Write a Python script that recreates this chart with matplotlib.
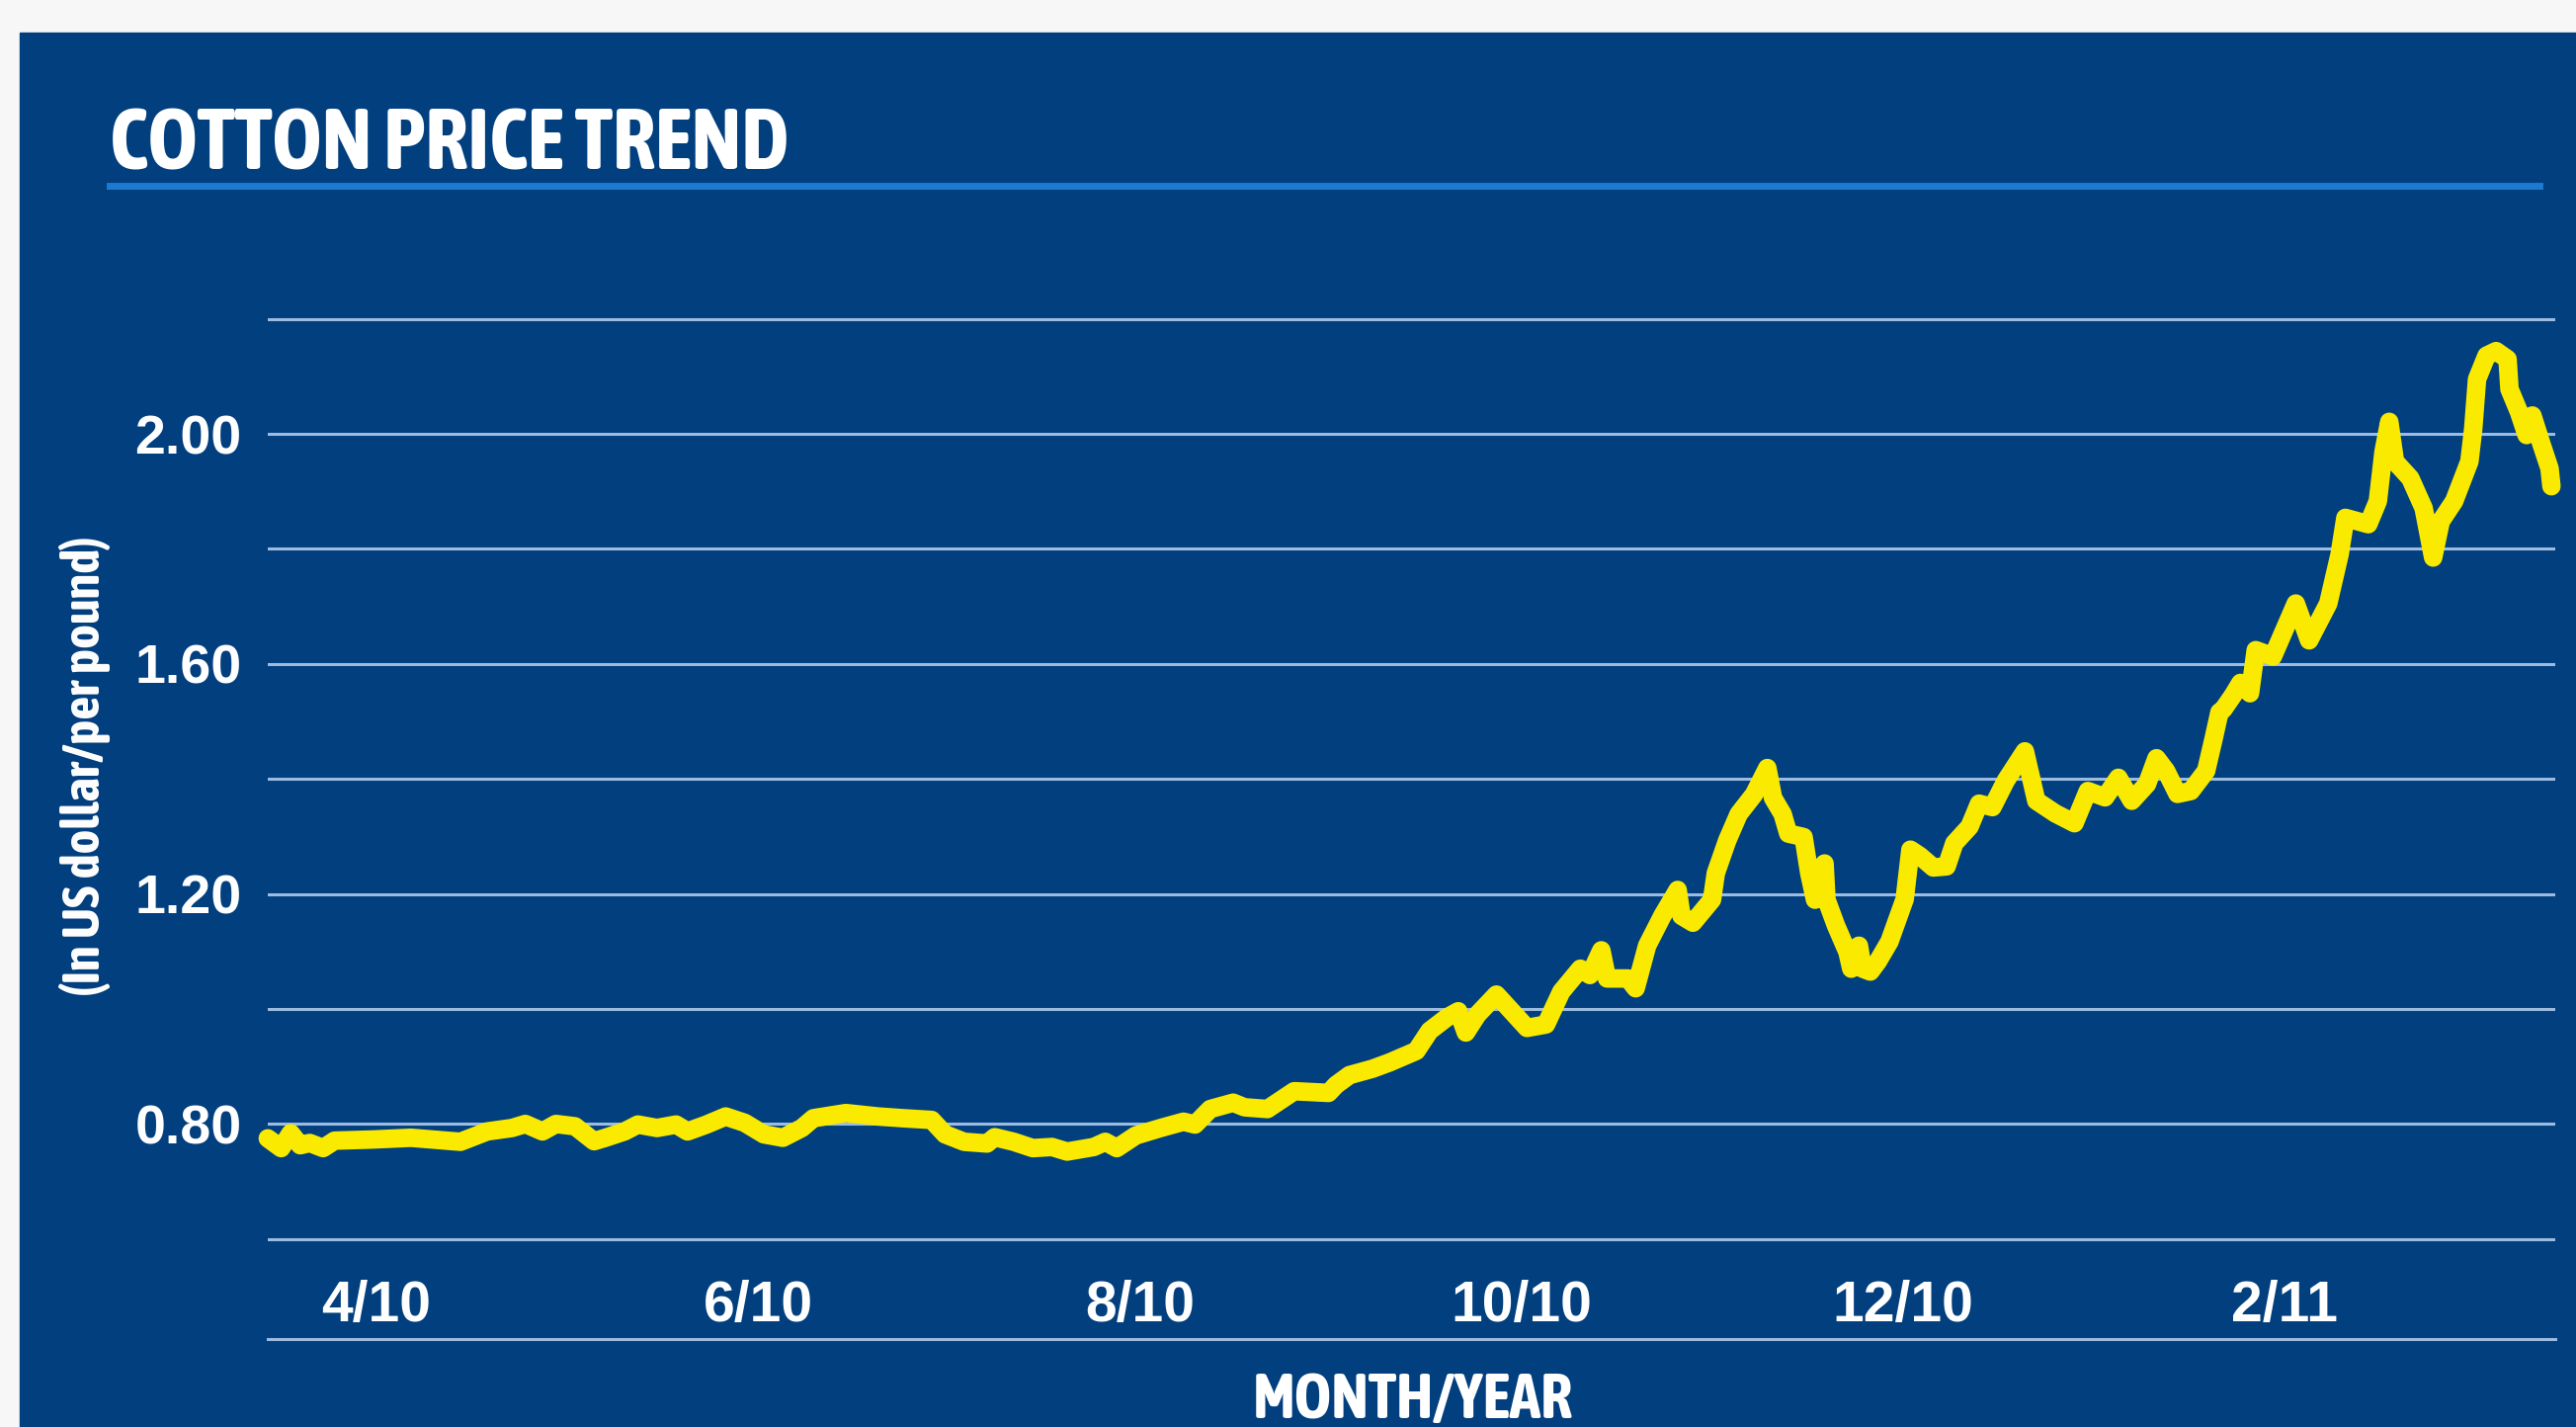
import matplotlib.pyplot as plt
from matplotlib.patches import Rectangle
from matplotlib.lines import Line2D
from matplotlib import font_manager
from matplotlib.font_manager import FontProperties

# month index: 4 = Apr 2010, 14 = Feb 2011
month = [3.43, 3.50, 3.55, 3.60, 3.65, 3.72, 3.78, 3.98, 4.18, 4.44,
         4.58, 4.71, 4.78, 4.87, 4.94, 5.04, 5.14, 5.20, 5.30, 5.37,
         5.47, 5.57, 5.63, 5.73, 5.83, 5.93, 6.03, 6.13, 6.23, 6.29,
         6.46, 6.63, 6.76, 6.91, 6.98, 7.08, 7.20, 7.24, 7.34, 7.44,
         7.54, 7.62, 7.76, 7.82, 7.88, 7.98, 8.11, 8.23, 8.29, 8.37,
         8.49, 8.55, 8.67, 8.81, 8.99, 9.03, 9.10, 9.22, 9.31, 9.45,
         9.52, 9.61, 9.67, 9.71, 9.77, 9.87, 9.95, 10.03, 10.13, 10.21,
         10.31, 10.36, 10.42, 10.45, 10.56, 10.60, 10.66, 10.74, 10.82, 10.84,
         10.90, 11.00, 11.02, 11.08, 11.14, 11.22, 11.29, 11.32, 11.37, 11.40,
         11.48, 11.51, 11.54, 11.59, 11.60, 11.65, 11.71, 11.73, 11.77, 11.79,
         11.83, 11.87, 11.93, 12.01, 12.04, 12.09, 12.16, 12.23, 12.27, 12.35,
         12.40, 12.47, 12.54, 12.64, 12.70, 12.80, 12.90, 12.97, 13.06, 13.13,
         13.20, 13.28, 13.33, 13.38, 13.44, 13.51, 13.59, 13.63, 13.66, 13.68,
         13.73, 13.77, 13.82, 13.85, 13.94, 14.06, 14.13, 14.23, 14.29, 14.32,
         14.44, 14.49, 14.52, 14.55, 14.58, 14.66, 14.73, 14.78, 14.82, 14.89,
         14.97, 14.99, 15.01, 15.06, 15.11, 15.17, 15.18, 15.23, 15.27, 15.30,
         15.35, 15.39, 15.40]
price = [0.775, 0.758, 0.784, 0.763, 0.767, 0.758, 0.771, 0.773, 0.776, 0.769,
         0.787, 0.793, 0.800, 0.787, 0.800, 0.796, 0.770, 0.776, 0.787, 0.799,
         0.793, 0.799, 0.787, 0.799, 0.813, 0.802, 0.782, 0.776, 0.793, 0.810,
         0.819, 0.813, 0.810, 0.807, 0.782, 0.769, 0.766, 0.777, 0.769, 0.758,
         0.760, 0.752, 0.760, 0.769, 0.758, 0.780, 0.793, 0.804, 0.799, 0.826,
         0.837, 0.829, 0.826, 0.857, 0.854, 0.868, 0.885, 0.896, 0.907, 0.927,
         0.962, 0.985, 0.996, 0.959, 0.990, 1.025, 0.996, 0.967, 0.973, 1.030,
         1.070, 1.059, 1.102, 1.053, 1.053, 1.036, 1.110, 1.162, 1.207, 1.162,
         1.150, 1.190, 1.236, 1.293, 1.339, 1.373, 1.419, 1.367, 1.339, 1.305,
         1.299, 1.236, 1.190, 1.253, 1.190, 1.145, 1.099, 1.070, 1.110, 1.070,
         1.065, 1.083, 1.117, 1.191, 1.277, 1.266, 1.246, 1.248, 1.288, 1.317,
         1.357, 1.351, 1.397, 1.448, 1.362, 1.340, 1.323, 1.379, 1.368, 1.402,
         1.362, 1.391, 1.436, 1.414, 1.374, 1.379, 1.414, 1.471, 1.516, 1.521,
         1.545, 1.567, 1.549, 1.624, 1.613, 1.705, 1.641, 1.705, 1.791, 1.854,
         1.843, 1.883, 1.969, 2.021, 1.952, 1.923, 1.871, 1.785, 1.848, 1.883,
         1.952, 2.009, 2.095, 2.136, 2.144, 2.130, 2.078, 2.038, 1.998, 2.032,
         1.980, 1.940, 1.909]

tick_months = [4, 6, 8, 10, 12, 14]
tick_labels = ["4/10", "6/10", "8/10", "10/10", "12/10", "2/11"]
grid_values = [0.6, 0.8, 1.0, 1.2, 1.4, 1.6, 1.8, 2.0, 2.2]
grid_labels = ["", "0.80", "", "1.20", "", "1.60", "", "2.00", ""]

# look for a condensed bold face, else fall back to a regular bold sans
fonts = font_manager.fontManager.ttflist
cond = [f for f in fonts
        if ("Narrow" in f.name or "Condensed" in f.name
            or f.stretch in ("condensed", "semi-condensed"))
        and f.weight in (700, "bold") and f.style == "normal"]
cond.sort(key=lambda f: ("Liberation" not in f.name, "DejaVu" in f.name))
names = {f.name for f in fonts}
wide = "Liberation Sans" if "Liberation Sans" in names else "DejaVu Sans"
if cond:
    nfp = lambda size: FontProperties(fname=cond[0].fname, size=size)
else:
    nfp = lambda size: FontProperties(family=wide, weight="bold", size=size)

BLUE = "#013f7e"
GRID = "#9dbbe0"
W, H = 2607, 1444

fig = plt.figure(figsize=(W / 100, H / 100), dpi=100, facecolor="#f7f7f7")
fig.patches.append(Rectangle((20 / W, 0), 1 - 20 / W, 1 - 33 / H,
                             transform=fig.transFigure, color=BLUE, zorder=-5))

fig.text(111 / W, 1 - 171 / H, "COTTON PRICE TREND", color="white",
         fontproperties=nfp(62), va="baseline")
fig.lines.append(Line2D([111 / W, 2570 / W], [1 - 188 / H] * 2,
                        transform=fig.transFigure, color="#1c7ad0", lw=5))

ax = fig.add_axes([271 / W, 1 - 1355 / H, 2315 / W, (1355 - 293.6) / H])
ax.patch.set_visible(False)
ax.plot(month, price, color="#f9ea00", lw=13.5, solid_joinstyle="round",
        solid_capstyle="round", clip_on=False, zorder=3)

ax.set_xlim(3.43, 15.42)
ax.set_ylim(0.426, 2.25)
ax.set_yticks(grid_values)
ax.set_yticklabels(grid_labels)
ax.set_xticks(tick_months)
ax.set_xticklabels(tick_labels)
ax.grid(axis="y", color=GRID, lw=2.2)
for s in ["top", "left", "right"]:
    ax.spines[s].set_visible(False)
ax.spines["bottom"].set_color(GRID)
ax.spines["bottom"].set_linewidth(2.2)

ax.tick_params(axis="y", length=0, pad=19, labelcolor="white", labelsize=40)
ax.tick_params(axis="x", length=0, pad=-24, labelcolor="white", labelsize=41)
for t in ax.get_yticklabels():
    t.set_fontweight("bold")
    t.set_family(wide)
for t in ax.get_xticklabels():
    t.set_fontweight("bold")
    t.set_family(wide)
    t.set_verticalalignment("center")

fig.text(1430 / W, 1 - 1418 / H, "MONTH/YEAR", color="white",
         fontproperties=nfp(46), ha="center", va="center")
fig.text(86 / W, 1 - 775 / H, "(In US dollar/per pound)", color="white",
         fontproperties=nfp(38), rotation=90, ha="center", va="center")

fig.savefig("out.png", dpi=100, facecolor=fig.get_facecolor())
